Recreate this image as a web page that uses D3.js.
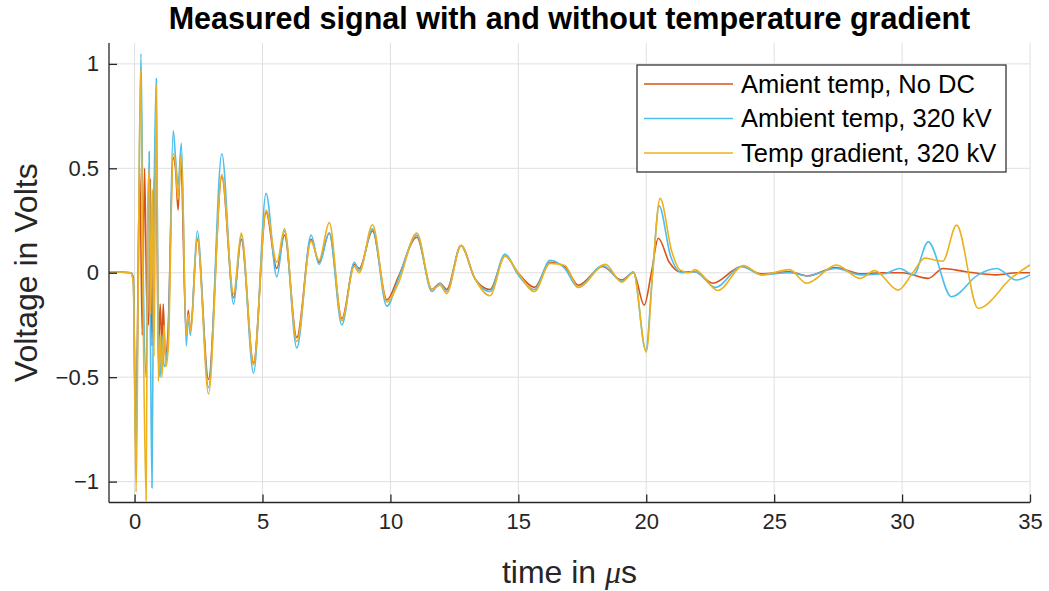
<!DOCTYPE html>
<html>
<head>
<meta charset="utf-8">
<script src="https://cdn.jsdelivr.net/npm/d3@7"></script>
<style>
  html, body { margin: 0; padding: 0; background: #fff; }
  svg { display: block; font-family: "Liberation Sans", Arial, Helvetica, sans-serif; }
</style>
</head>
<body>
<svg id="chart" width="1049" height="591"></svg>
<script>
// Series: time in microseconds and measured voltage in volts
const tNoDC = [-1, -0.5, -0.15, -0.05, 0.05, 0.12, 0.2, 0.3, 0.39, 0.47, 0.55, 0.62, 0.68, 0.78, 0.85, 0.93, 1.0, 1.07, 1.12, 1.2, 1.3, 1.51, 1.6, 1.7, 1.8, 2.02, 2.1, 2.18, 2.45, 2.89, 3.41, 3.87, 4.17, 4.65, 5.14, 5.56, 5.86, 6.34, 6.9, 7.21, 7.61, 8.1, 8.59, 8.78, 9.3, 9.86, 10.31, 11.03, 11.62, 11.94, 12.2, 12.76, 13.31, 13.89, 14.48, 14.99, 15.63, 16.24, 16.82, 17.34, 18.3, 19.04, 19.5, 19.92, 20.2, 20.47, 20.9, 21.32, 21.9, 22.6, 23.73, 24.5, 25.6, 26.3, 27.4, 28.4, 29.2, 30.0, 31.02, 31.6, 32.5, 33.7, 34.5, 35];
const vNoDC = [0.005, 0.003, 0.0, -0.02, -0.86, -0.2, 0.5, -0.3, 0.5, -0.1, -0.25, 0.45, -0.35, 0.45, 0.5, -0.4, -0.15, -0.35, -0.15, -0.4, -0.3, 0.55, 0.5, 0.3, 0.55, -0.3, -0.18, -0.28, 0.16, -0.51, 0.46, -0.12, 0.16, -0.43, 0.29, 0.02, 0.18, -0.31, 0.16, 0.05, 0.19, -0.22, 0.04, 0.02, 0.2, -0.13, -0.02, 0.17, -0.08, -0.05, -0.08, 0.13, -0.03, -0.08, 0.08, 0.0, -0.07, 0.05, 0.03, -0.06, 0.03, -0.035, 0.0, -0.155, 0.0, 0.165, 0.05, 0.005, 0.005, -0.05, 0.03, -0.005, 0.005, -0.015, 0.025, -0.005, 0.0, 0.0, -0.027, 0.02, 0.005, -0.01, 0.0, 0.0];

const tAmb = [-1, -0.15, -0.05, 0.05, 0.12, 0.25, 0.35, 0.45, 0.57, 0.62, 0.68, 0.75, 0.85, 0.93, 1.0, 1.07, 1.15, 1.3, 1.51, 1.6, 1.7, 1.83, 2.02, 2.1, 2.18, 2.45, 2.89, 3.41, 3.87, 4.17, 4.65, 5.14, 5.56, 5.86, 6.34, 6.9, 7.21, 7.61, 8.1, 8.59, 8.78, 9.3, 9.86, 10.31, 11.03, 11.62, 11.94, 12.2, 12.76, 13.31, 13.89, 14.48, 14.99, 15.63, 16.24, 16.82, 17.34, 18.3, 19.04, 19.5, 19.98, 20.25, 20.5, 20.95, 21.4, 21.9, 22.7, 23.73, 24.5, 25.6, 26.3, 27.4, 28.4, 29.3, 29.9, 30.45, 31.02, 31.93, 32.97, 33.69, 34.47, 35];
const vAmb = [0.005, 0.0, -0.03, -0.9, -0.3, 1.05, -0.1, -0.5, 0.58, -0.3, -1.03, 0.2, 0.93, -0.4, -0.5, -0.3, -0.45, -0.35, 0.68, 0.55, 0.42, 0.62, -0.35, -0.2, -0.3, 0.2, -0.55, 0.57, -0.15, 0.18, -0.48, 0.38, -0.02, 0.2, -0.36, 0.18, 0.04, 0.19, -0.25, 0.05, 0.01, 0.21, -0.16, -0.03, 0.18, -0.09, -0.05, -0.09, 0.13, -0.03, -0.09, 0.09, -0.01, -0.08, 0.06, 0.02, -0.07, 0.035, -0.04, 0.005, -0.37, 0.0, 0.32, 0.08, 0.0, 0.005, -0.07, 0.03, -0.01, 0.0, -0.015, 0.02, -0.01, -0.005, 0.02, -0.01, 0.148, -0.115, -0.01, 0.02, -0.035, -0.01];

const tGrad = [-1, -0.15, -0.05, 0.06, 0.12, 0.18, 0.24, 0.32, 0.45, 0.52, 0.58, 0.63, 0.7, 0.76, 0.85, 0.93, 1.0, 1.07, 1.15, 1.22, 1.32, 1.51, 1.6, 1.7, 1.83, 2.02, 2.1, 2.2, 2.45, 2.89, 3.41, 3.87, 4.17, 4.65, 5.14, 5.56, 5.86, 6.34, 6.9, 7.21, 7.61, 8.1, 8.59, 8.78, 9.3, 9.86, 10.31, 11.03, 11.62, 11.94, 12.2, 12.76, 13.31, 13.89, 14.48, 14.99, 15.63, 16.24, 16.82, 17.34, 18.4, 19.04, 19.5, 20.0, 20.25, 20.54, 21.0, 21.32, 21.7, 21.9, 22.8, 23.8, 24.5, 25.6, 26.27, 27.44, 28.35, 28.93, 29.84, 30.42, 30.89, 31.3, 31.59, 32.13, 32.97, 34.32, 35];
const vGrad = [0.005, 0.0, -0.05, -1.05, -0.4, 0.5, 0.97, 0.0, -1.09, 0.35, 0.5, -0.2, 0.4, -0.4, 0.9, -0.52, -0.3, -0.5, -0.25, -0.45, -0.35, 0.57, 0.52, 0.35, 0.57, -0.3, -0.2, -0.28, 0.17, -0.58, 0.47, -0.1, 0.19, -0.44, 0.3, 0.05, 0.21, -0.33, 0.15, 0.06, 0.24, -0.23, 0.03, 0.0, 0.23, -0.14, -0.05, 0.19, -0.08, -0.06, -0.1, 0.13, -0.03, -0.11, 0.08, 0.0, -0.09, 0.045, 0.035, -0.07, 0.04, -0.045, 0.0, -0.38, 0.0, 0.356, 0.1, 0.013, 0.0, 0.015, -0.085, 0.035, -0.01, 0.015, -0.05, 0.037, -0.027, 0.01, -0.083, 0.0, 0.07, 0.06, 0.055, 0.228, -0.17, -0.02, 0.037];

const seriesNames = ["Amient temp, No DC", "Ambient temp, 320 kV", "Temp gradient, 320 kV"];
const seriesColors = ["#D95319", "#4DBEEE", "#EDB120"];
const xTicks = [0, 5, 10, 15, 20, 25, 30, 35];
const yTicks = [-1, -0.5, 0, 0.5, 1];
const yTickLabels = ["\u22121", "\u22120.5", "0", "0.5", "1"];

const series = [
  { name: seriesNames[0], color: seriesColors[0], pts: tNoDC.map((t, i) => [t, vNoDC[i]]) },
  { name: seriesNames[1], color: seriesColors[1], pts: tAmb.map((t, i) => [t, vAmb[i]]) },
  { name: seriesNames[2], color: seriesColors[2], pts: tGrad.map((t, i) => [t, vGrad[i]]) }
];

const svg = d3.select("#chart");
const plotL = 109, plotR = 1030, plotT = 43, plotB = 502.5;

const x = d3.scaleLinear().domain([-1, 35]).range([plotL, plotR]);
const y = d3.scaleLinear().domain([-1.1, 1.1]).range([plotB, plotT]);

const axisColor = "#262626";
const gridColor = "#dfdfdf";

// grid
const grid = svg.append("g");
grid.selectAll("line.gx").data(xTicks).join("line").attr("class", "gx")
  .attr("x1", d => x(d)).attr("x2", d => x(d))
  .attr("y1", plotT).attr("y2", plotB)
  .attr("stroke", gridColor).attr("stroke-width", 1);
grid.selectAll("line.gy").data(yTicks).join("line").attr("class", "gy")
  .attr("y1", d => y(d)).attr("y2", d => y(d))
  .attr("x1", plotL).attr("x2", plotR)
  .attr("stroke", gridColor).attr("stroke-width", 1);

// traces
svg.append("clipPath").attr("id", "plotclip")
  .append("rect").attr("x", plotL).attr("y", plotT).attr("width", plotR - plotL).attr("height", plotB - plotT);

const line = d3.line().x(d => x(d[0])).y(d => y(d[1])).curve(d3.curveMonotoneX);
svg.append("g").attr("clip-path", "url(#plotclip)")
  .selectAll("path").data(series).join("path")
  .attr("d", d => line(d.pts))
  .attr("fill", "none")
  .attr("stroke", d => d.color)
  .attr("stroke-width", 1.6)
  .attr("stroke-linejoin", "round");

// axes (ticks drawn inward)
const xAxis = d3.axisBottom(x).tickValues(xTicks).tickSize(-8).tickPadding(11).tickFormat(d3.format("d"));
const gx = svg.append("g").attr("transform", `translate(0,${plotB})`).call(xAxis);
const yAxis = d3.axisLeft(y).tickValues(yTicks).tickSize(-8).tickPadding(10)
  .tickFormat((d, i) => yTickLabels[i]);
const gy = svg.append("g").attr("transform", `translate(${plotL},0)`).call(yAxis);

[gx, gy].forEach(g => {
  g.select(".domain").attr("stroke", axisColor).attr("stroke-width", 1.3);
  g.selectAll(".tick line").attr("stroke", axisColor).attr("stroke-width", 1.3);
  g.selectAll(".tick text").attr("fill", axisColor).attr("font-size", 22)
    .attr("font-family", "'Liberation Sans', Arial, sans-serif");
});
gx.select(".domain").attr("d", `M${plotL},0H${plotR}`);
gy.select(".domain").attr("d", `M0,${plotB}V${plotT}`);

// title
svg.append("text")
  .attr("x", (plotL + plotR) / 2).attr("y", 29)
  .attr("text-anchor", "middle")
  .attr("font-size", 30.5).attr("font-weight", "bold").attr("fill", "#000")
  .text("Measured signal with and without temperature gradient");

// axis labels
const xl = svg.append("text")
  .attr("x", (plotL + plotR) / 2).attr("y", 583)
  .attr("text-anchor", "middle").attr("font-size", 32).attr("fill", axisColor);
xl.append("tspan").text("time in ");
xl.append("tspan").attr("font-style", "italic").attr("font-family", "'Liberation Serif', serif").text("μ");
xl.append("tspan").text("s");

svg.append("text")
  .attr("transform", `translate(37,${(plotT + plotB) / 2}) rotate(-90)`)
  .attr("text-anchor", "middle").attr("font-size", 32).attr("fill", axisColor)
  .text("Voltage in Volts");

// legend
const lg = svg.append("g");
lg.append("rect").attr("x", 637).attr("y", 65).attr("width", 369).attr("height", 107)
  .attr("fill", "#fff").attr("stroke", axisColor).attr("stroke-width", 1.2);
const rows = lg.selectAll("g.row").data(series).join("g").attr("class", "row")
  .attr("transform", (d, i) => `translate(0,${84 + i * 34.5})`);
rows.append("line").attr("x1", 644).attr("x2", 733).attr("y1", 0).attr("y2", 0)
  .attr("stroke", d => d.color).attr("stroke-width", 1.4);
rows.append("text").attr("x", 741).attr("y", 0).attr("dy", "0.35em")
  .attr("font-size", 25.5).attr("fill", "#000").text(d => d.name);
</script>
</body>
</html>
